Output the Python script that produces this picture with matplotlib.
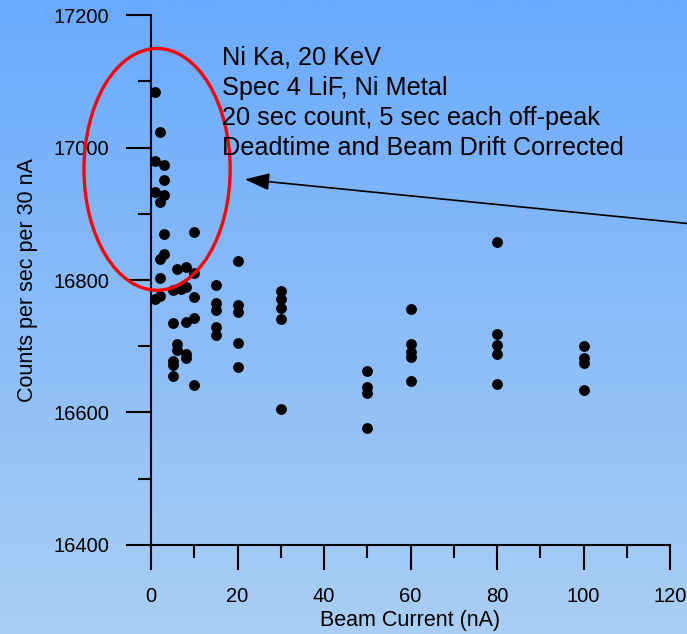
import numpy as np
import matplotlib.pyplot as plt
from matplotlib.patches import Ellipse
from matplotlib.ticker import MultipleLocator

plt.rcParams['font.family'] = ['Liberation Sans', 'DejaVu Sans']

# Beam current (nA) and measured count rates (cps per 30 nA)
beam_current = [
    1, 1, 1, 1,
    2, 2, 2, 2, 2,
    3, 3, 3, 3, 3,
    5, 5, 5, 5, 5,
    6, 6, 6,
    7,
    8, 8, 8, 8, 8,
    10, 10, 10, 10, 10,
    15, 15, 15, 15, 15,
    20, 20, 20, 20, 20,
    30, 30, 30, 30, 30,
    50, 50, 50, 50,
    60, 60, 60, 60, 60,
    80, 80, 80, 80, 80,
    100, 100, 100, 100,
]
counts = [
    17084, 16979, 16933, 16772,
    17024, 16917, 16831, 16803, 16776,
    16974, 16951, 16928, 16869, 16840,
    16785, 16735, 16678, 16672, 16655,
    16816, 16704, 16694,
    16787,
    16820, 16790, 16737, 16689, 16682,
    16873, 16810, 16775, 16743, 16641,
    16792, 16765, 16755, 16729, 16717,
    16829, 16762, 16751, 16705, 16669,
    16783, 16771, 16757, 16741, 16606,
    16662, 16639, 16630, 16577,
    16756, 16703, 16692, 16684, 16647,
    16858, 16718, 16702, 16688, 16643,
    16700, 16683, 16675, 16634,
]

notes = [
    "Ni Ka, 20 KeV",
    "Spec 4 LiF, Ni Metal",
    "20 sec count, 5 sec each off-peak",
    "Deadtime and Beam Drift Corrected",
]

fig = plt.figure(figsize=(6.87, 6.34), dpi=100)

# vertical blue gradient behind everything
bg = fig.add_axes([0, 0, 1, 1], zorder=-10)
top = np.array([106, 170, 253]) / 255
bottom = np.array([170, 206, 243]) / 255
t = np.linspace(0, 1, 256)[:, None, None]
grad = top * (1 - t) + bottom * t
grad = np.repeat(grad, 2, axis=1)
bg.imshow(grad, aspect='auto', extent=[0, 1, 0, 1])
bg.axis('off')

ax = fig.add_axes([0.2198, 0.1404, 0.7555, 0.8359])
ax.patch.set_alpha(0)

ax.scatter(beam_current, counts, s=46, color='black', zorder=3, clip_on=False)

ax.set_xlim(0, 120)
ax.set_ylim(16400, 17200)
ax.xaxis.set_major_locator(MultipleLocator(20))
ax.xaxis.set_minor_locator(MultipleLocator(10))
ax.yaxis.set_major_locator(MultipleLocator(200))
ax.yaxis.set_minor_locator(MultipleLocator(100))

for side in ['top', 'right']:
    ax.spines[side].set_visible(False)
for side in ['left', 'bottom']:
    ax.spines[side].set_linewidth(1.5)

ax.tick_params(which='major', direction='out', length=18, width=1.5,
               labelsize=14.5, pad=12)
ax.tick_params(which='minor', direction='out', length=9.5, width=1.5)

ax.set_xlabel('Beam Current (nA)', fontsize=15.5, labelpad=3)
ax.set_ylabel('Counts per sec per 30 nA', fontsize=15.5, labelpad=11)

# highlight the low-current points
ax.add_patch(Ellipse((1.4, 16967), 33.8, 365, fill=False, edgecolor='red',
                     linewidth=2.4, clip_on=False, zorder=4))

ax.annotate('', xy=(21.7, 16952), xytext=(126, 16884),
            arrowprops=dict(arrowstyle='-|>,head_length=1.0,head_width=0.35',
                            mutation_scale=15, color='black', lw=1.2,
                            shrinkA=0, shrinkB=0),
            annotation_clip=False)

fig.text(222 / 687, 1 - 46 / 634, '\n'.join(notes), fontsize=18.2,
         va='top', ha='left', linespacing=1.31)

fig.savefig('out.png', dpi=100)
